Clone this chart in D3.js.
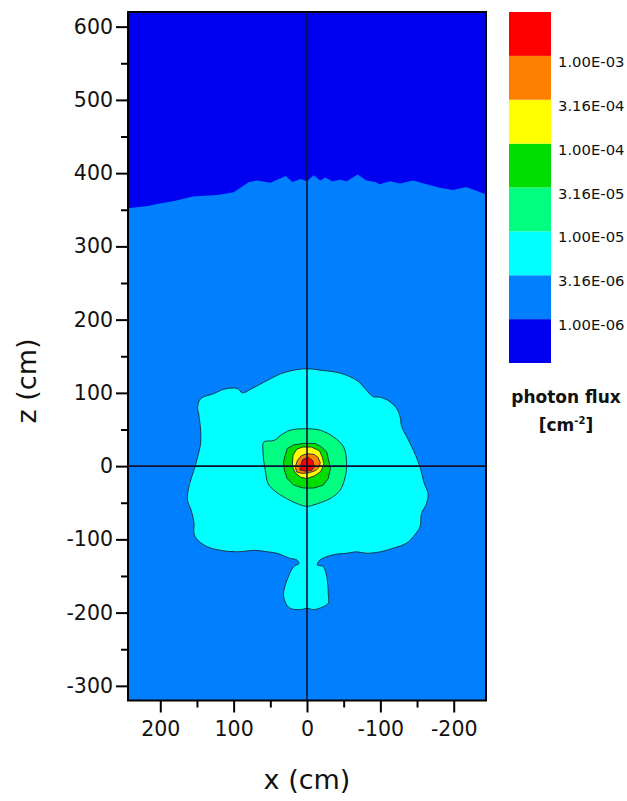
<!DOCTYPE html>
<html>
<head>
<meta charset="utf-8">
<script src="https://cdn.jsdelivr.net/npm/d3@7"></script>
<style>
  body { margin: 0; background: #fff; }
  text { font-family: "DejaVu Sans", sans-serif; fill: #111; }
</style>
</head>
<body>
<script>
// flux levels (colour bar) and band colours, lowest first
var levelLabels = ["1.00E-06", "3.16E-06", "1.00E-05", "3.16E-05", "1.00E-04", "3.16E-04", "1.00E-03"];
var bandColors = ["#0000F0", "#0080FF", "#00FFFF", "#00FF80", "#00DD00", "#FFFF00", "#FF8000", "#FF0000"];

var xMajor = [200, 100, 0, -100, -200];
var xMinor = [150, 50, -50, -150];
var zMajor = [-300, -200, -100, 0, 100, 200, 300, 400, 500, 600];
var zMinor = [-250, -150, -50, 50, 150, 250, 350, 450, 550];

// contour boundaries, [x cm, z cm]
// 1e-6 level: boundary between dark blue (above) and blue
var edge1e6 = [[244,352],[217,355],[199,359],[181,362],[156,368],[122,370],[100,374],[79,388],[68,390],
  [50,387],[29,396],[20,388],[9,392],[0,389],[-9,397],[-18,390],[-25,394],[-34,389],[-45,391],[-54,389],
  [-69,398],[-81,390],[-93,388],[-99,385],[-113,389],[-127,386],[-145,390],[-163,385],[-181,380],
  [-199,377],[-217,381],[-231,376],[-244,371]];
// 3.16e-6 level: the cyan "mushroom"
var edge316e6 = [[0,133],[-18,131],[-45,127],[-68,117],[-79,106],[-90,95],[-100,94],[-113,88],[-122,79],
  [-127,67],[-129,54],[-136,40],[-145,22],[-154,-1],[-160,-24],[-165,-37],[-163,-51],[-156,-65],[-154,-83],
  [-145,-96],[-136,-105],[-118,-112],[-100,-117],[-81,-119],[-68,-117],[-54,-119],[-36,-121],[-18,-128],
  [-14,-135],[-22,-137],[-27,-151],[-29,-174],[-29,-187],[-22,-192],[-9,-196],[0,-194],[9,-196],[23,-194],
  [29,-187],[32,-174],[27,-155],[18,-137],[11,-133],[14,-128],[23,-126],[41,-119],[54,-117],[72,-115],
  [95,-117],[118,-115],[136,-110],[149,-101],[154,-92],[154,-78],[158,-60],[163,-46],[161,-28],[154,-5],
  [149,13],[145,31],[145,49],[147,67],[149,81],[145,92],[127,99],[113,105],[95,106],[88,100],[75,106],
  [54,117],[36,126],[18,131]];
var edge1e5 = [[59,33],[45,35],[36,42],[23,49],[0,51],[-18,49],[-36,40],[-50,26],[-54,4],[-52,-15],
  [-45,-33],[-32,-44],[-9,-53],[0,-55],[14,-51],[32,-42],[45,-33],[53,-24],[57,-5],[59,8],[60,22]];
var edge316e5 = [[29,17],[27,24],[18,29],[5,31],[-11,31],[-20,26],[-27,19],[-29,10],[-32,-3],[-29,-17],
  [-22,-26],[-9,-30],[5,-30],[18,-26],[27,-17],[31,-5],[32,6]];
var edge1e4 = [[19,15],[14,23],[6,26],[-6,26],[-17,21],[-21,12],[-23,3],[-19,-7],[-11,-13],[0,-17],
  [9,-15],[16,-9],[20,0]];
var edge316e4 = [[13,8],[8,14],[0,17],[-10,16],[-15,12],[-18,5],[-17,-1],[-12,-6],[-3,-9],[6,-10],
  [14,-8],[16,-1]];
var edge1e3 = [[6,9],[-2,12],[-8,7],[-10,-1],[-6,-6],[2,-7],[10,-5],[8,3]];

var svg = d3.select("body").append("svg")
  .attr("width", 627)
  .attr("height", 801);

var x = d3.scaleLinear().domain([244, -244]).range([128, 486]);
var y = d3.scaleLinear().domain([-320, 620]).range([700.5, 12]);

svg.append("clipPath").attr("id", "clip")
  .append("rect")
    .attr("x", x.range()[0]).attr("y", y.range()[1])
    .attr("width", x.range()[1] - x.range()[0])
    .attr("height", y.range()[0] - y.range()[1]);

var plot = svg.append("g").attr("clip-path", "url(#clip)");

// background band
plot.append("rect")
  .attr("x", x.range()[0]).attr("y", y.range()[1])
  .attr("width", x.range()[1] - x.range()[0])
  .attr("height", y.range()[0] - y.range()[1])
  .attr("fill", bandColors[1]);

var lin = d3.line().x(function(d) { return x(d[0]); }).y(function(d) { return y(d[1]); });

// dark blue region above the 1e-6 edge
var xd = x.domain(), zTop = y.domain()[1];
var topPoly = edge1e6.concat([[xd[1], zTop], [xd[0], zTop]]);
plot.append("path")
  .attr("d", lin.curve(d3.curveLinearClosed)(topPoly))
  .attr("fill", bandColors[0]);

var smooth = d3.line().x(function(d) { return x(d[0]); }).y(function(d) { return y(d[1]); })
  .curve(d3.curveCatmullRomClosed.alpha(0.5));
var poly = d3.line().x(function(d) { return x(d[0]); }).y(function(d) { return y(d[1]); })
  .curve(d3.curveLinearClosed);

var inner = [
  {pts: edge316e6, c: bandColors[2], gen: smooth},
  {pts: edge1e5, c: bandColors[3], gen: smooth},
  {pts: edge316e5, c: bandColors[4], gen: poly},
  {pts: edge1e4, c: bandColors[5], gen: poly},
  {pts: edge316e4, c: bandColors[6], gen: poly},
  {pts: edge1e3, c: bandColors[7], gen: poly}
];
inner.forEach(function(r) {
  plot.append("path")
    .attr("d", r.gen(r.pts))
    .attr("fill", r.c)
    .attr("stroke", "#1c2a3a")
    .attr("stroke-width", 0.9);
});

// cross hairs at x = 0 and z = 0
plot.append("line")
  .attr("x1", x(0)).attr("x2", x(0))
  .attr("y1", y.range()[0]).attr("y2", y.range()[1])
  .attr("stroke", "#0e1030").attr("stroke-width", 1.6);
plot.append("line")
  .attr("x1", x.range()[0]).attr("x2", x.range()[1])
  .attr("y1", y(0)).attr("y2", y(0))
  .attr("stroke", "#0e1030").attr("stroke-width", 1.6);

// frame
svg.append("rect")
  .attr("x", x.range()[0]).attr("y", y.range()[1])
  .attr("width", x.range()[1] - x.range()[0])
  .attr("height", y.range()[0] - y.range()[1])
  .attr("fill", "none").attr("stroke", "#000").attr("stroke-width", 2);

// axes (plain hyphen for negatives, as in the original)
var fmt = function(d) { return String(d); };
svg.append("g")
  .attr("transform", "translate(0," + y.range()[0] + ")")
  .call(d3.axisBottom(x).tickValues(xMajor).tickFormat(fmt).tickSize(12).tickPadding(9).tickSizeOuter(0));
svg.append("g")
  .attr("transform", "translate(0," + y.range()[0] + ")")
  .call(d3.axisBottom(x).tickValues(xMinor).tickSize(7).tickFormat("").tickSizeOuter(0));
var yAxis = svg.append("g")
  .attr("transform", "translate(" + x.range()[0] + ",0)")
  .call(d3.axisLeft(y).tickValues(zMajor).tickFormat(fmt).tickSize(12).tickPadding(9).tickSizeOuter(0));
svg.append("g")
  .attr("transform", "translate(" + x.range()[0] + ",0)")
  .call(d3.axisLeft(y).tickValues(zMinor).tickSize(7).tickFormat("").tickSizeOuter(0));

svg.selectAll(".domain").remove();
svg.selectAll(".tick line").attr("stroke", "#000").attr("stroke-width", 2);
svg.selectAll(".tick text")
  .style("font-family", "DejaVu Sans, sans-serif")
  .style("font-size", "20.5px")
  .attr("fill", "#111");
yAxis.selectAll(".tick text").attr("x", -15);

svg.append("text")
  .attr("x", x(0)).attr("y", 789)
  .attr("text-anchor", "middle")
  .style("font-size", "27px")
  .text("x (cm)");
svg.append("text")
  .attr("transform", "translate(36," + 381 + ") rotate(-90)")
  .attr("text-anchor", "middle")
  .style("font-size", "27px")
  .text("z (cm)");

// colour bar
var cb = d3.scaleLinear().domain([0, bandColors.length]).range([363, 12]);
svg.append("g").selectAll("rect")
  .data(bandColors)
  .enter().append("rect")
    .attr("x", 509)
    .attr("width", 42)
    .attr("y", function(d, i) { return cb(i + 1); })
    .attr("height", function(d, i) { return cb(i) - cb(i + 1); })
    .attr("fill", function(d) { return d; });

svg.append("g").selectAll("text")
  .data(levelLabels)
  .enter().append("text")
    .attr("x", 558)
    .attr("y", function(d, i) { return cb(i + 1) + 7; })
    .attr("dominant-baseline", "middle")
    .style("font-size", "14.8px")
    .text(function(d) { return d; });

svg.append("text")
  .attr("x", 566).attr("y", 403)
  .attr("text-anchor", "middle")
  .style("font-size", "17px").style("font-weight", "bold")
  .text("photon flux");
var unit = svg.append("text")
  .attr("x", 566).attr("y", 431)
  .attr("text-anchor", "middle")
  .style("font-size", "17px").style("font-weight", "bold");
unit.append("tspan").text("[cm");
unit.append("tspan").attr("dy", -7).style("font-size", "10px").text("-2");
unit.append("tspan").attr("dy", 7).text("]");
</script>
</body>
</html>
